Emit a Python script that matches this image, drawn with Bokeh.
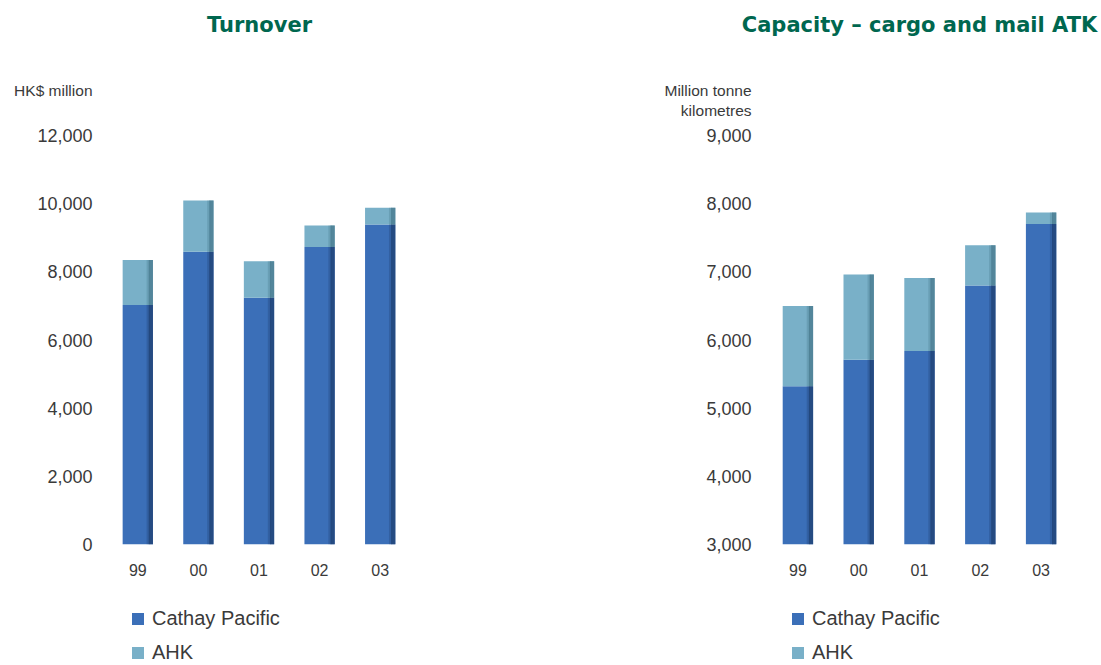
from bokeh.plotting import figure
from bokeh.layouts import row, column
from bokeh.models import (FactorRange, Range1d, Label, Legend, LegendItem,
                          NumeralTickFormatter, FixedTicker)
from bokeh.transform import dodge
from bokeh.embed import file_html
from bokeh.resources import INLINE

years = ["99", "00", "01", "02", "03"]
series_names = ["Cathay Pacific", "AHK"]

# Turnover, HK$ million
turnover_cx = [7030, 8590, 7240, 8730, 9390]
turnover_ahk = [1320, 1500, 1070, 630, 490]

# Capacity - cargo and mail ATK, million tonne kilometres
atk_cx = [5320, 5710, 5840, 6800, 7700]
atk_ahk = [1180, 1250, 1070, 590, 170]

CX_COLOR = "#3b6fb8"
CX_EDGE = "#1f3f70"
AHK_COLOR = "#79b0c8"
AHK_EDGE = "#47788c"
TITLE_GREEN = "#00674f"
TEXT = "#3a3a3a"
FONT = "Liberation Sans"
HEADER_H = 122
CHART_BOTTOM = 40
KEY_H = 665 - 135 - 409 - CHART_BOTTOM


def strip(width, height, y_start, y_end):
    # a bare drawing area with no axes, used for the headings and the key
    s = figure(width=width, height=height, min_border=0, frame_align=False,
               x_range=Range1d(0, width), y_range=Range1d(y_start, y_end),
               x_axis_location=None, y_axis_location=None,
               output_backend="svg", toolbar_location=None,
               outline_line_color=None, border_fill_color="white")
    s.grid.visible = False
    return s


def make_header(width, title, title_x, units, unit_x, unit_ys):
    # y runs downward from the top edge here
    h = strip(width, HEADER_H, HEADER_H, 0)
    h.add_layout(Label(x=title_x, y=24, text=title, text_align="center",
                       text_baseline="middle", text_font="DejaVu Sans",
                       text_font_style="bold", text_font_size="21px",
                       text_color=TITLE_GREEN))
    for txt, yv in zip(units, unit_ys):
        h.add_layout(Label(x=unit_x, y=yv, text=txt, text_align="right",
                           text_baseline="middle", text_font=FONT,
                           text_font_size="15.5px", text_color=TEXT))
    return h


def make_chart(cx, ahk, y_start, y_end, y_step, border_left, frame_w,
               border_right, label_standoff):
    data = dict(years=years, cx=cx, ahk=ahk)
    p = figure(x_range=FactorRange(*years, range_padding=0),
               y_range=Range1d(y_start, y_end),
               frame_width=frame_w, frame_height=409,
               min_border_left=border_left, min_border_right=border_right,
               min_border_top=135 - HEADER_H, min_border_bottom=CHART_BOTTOM,
               output_backend="svg", toolbar_location=None,
               background_fill_color="white", border_fill_color="white",
               outline_line_color=None)

    p.vbar_stack(["cx", "ahk"], x="years", width=0.5, source=data,
                 color=[CX_COLOR, AHK_COLOR], line_color=None)
    # darker right-hand edge gives the bars a rounded, shaded look
    p.vbar_stack(["cx", "ahk"], x=dodge("years", 0.215, range=p.x_range),
                 width=0.07, source=data, color=[CX_EDGE, AHK_EDGE],
                 line_color=None, fill_alpha=0.75)
    p.vbar_stack(["cx", "ahk"], x=dodge("years", 0.17, range=p.x_range),
                 width=0.05, source=data, color=[CX_EDGE, AHK_EDGE],
                 line_color=None, fill_alpha=0.3)

    p.xgrid.grid_line_color = None
    p.ygrid.grid_line_color = None
    for ax in (p.xaxis[0], p.yaxis[0]):
        ax.axis_line_color = None
        ax.major_tick_line_color = None
        ax.minor_tick_line_color = None
        ax.major_tick_out = 0
        ax.major_tick_in = 0
        ax.major_label_text_font = FONT
        ax.major_label_text_color = TEXT
    p.yaxis[0].ticker = FixedTicker(ticks=list(range(y_start, y_end + 1, y_step)))
    p.yaxis[0].formatter = NumeralTickFormatter(format="0,0")
    p.yaxis[0].major_label_text_font_size = "18px"
    p.yaxis[0].major_label_standoff = label_standoff
    p.xaxis[0].major_label_text_font_size = "16px"
    p.xaxis[0].major_label_standoff = 19
    return p


def make_key(width, x0):
    k = strip(width, KEY_H, 0, 1)
    # zero-height swatch renderers that carry the series colours for the key
    r_cx = k.vbar(x=[0.5], bottom=[0], top=[0], width=1,
                  color=CX_COLOR, line_color=None)
    r_ahk = k.vbar(x=[0.5], bottom=[0], top=[0], width=1,
                   color=AHK_COLOR, line_color=None)
    legend = Legend(items=[LegendItem(label=series_names[0], renderers=[r_cx]),
                           LegendItem(label=series_names[1], renderers=[r_ahk])],
                    location=(x0, 1), orientation="vertical",
                    padding=0, margin=0, spacing=11,
                    glyph_width=15, glyph_height=15, label_height=20,
                    label_standoff=7, label_text_font=FONT,
                    label_text_font_size="20px", label_text_color=TEXT,
                    background_fill_alpha=0, border_line_color=None)
    k.add_layout(legend, "center")
    return k


left = column(
    make_header(550, "Turnover", 259, ["HK$ million"], 92, [90]),
    make_chart(turnover_cx, turnover_ahk, 0, 12000, 2000, 107, 303, 140, 15),
    make_key(550, 130),
    spacing=0)
right = column(
    make_header(551, "Capacity \u2013 cargo and mail ATK", 369,
                ["Million tonne", "kilometres"], 201, [90, 110]),
    make_chart(atk_cx, atk_ahk, 3000, 9000, 1000, 217, 304, 30, 16),
    make_key(551, 240),
    spacing=0)

layout = row(left, right, spacing=0)
open("out.html", "w").write(file_html(layout, INLINE))
